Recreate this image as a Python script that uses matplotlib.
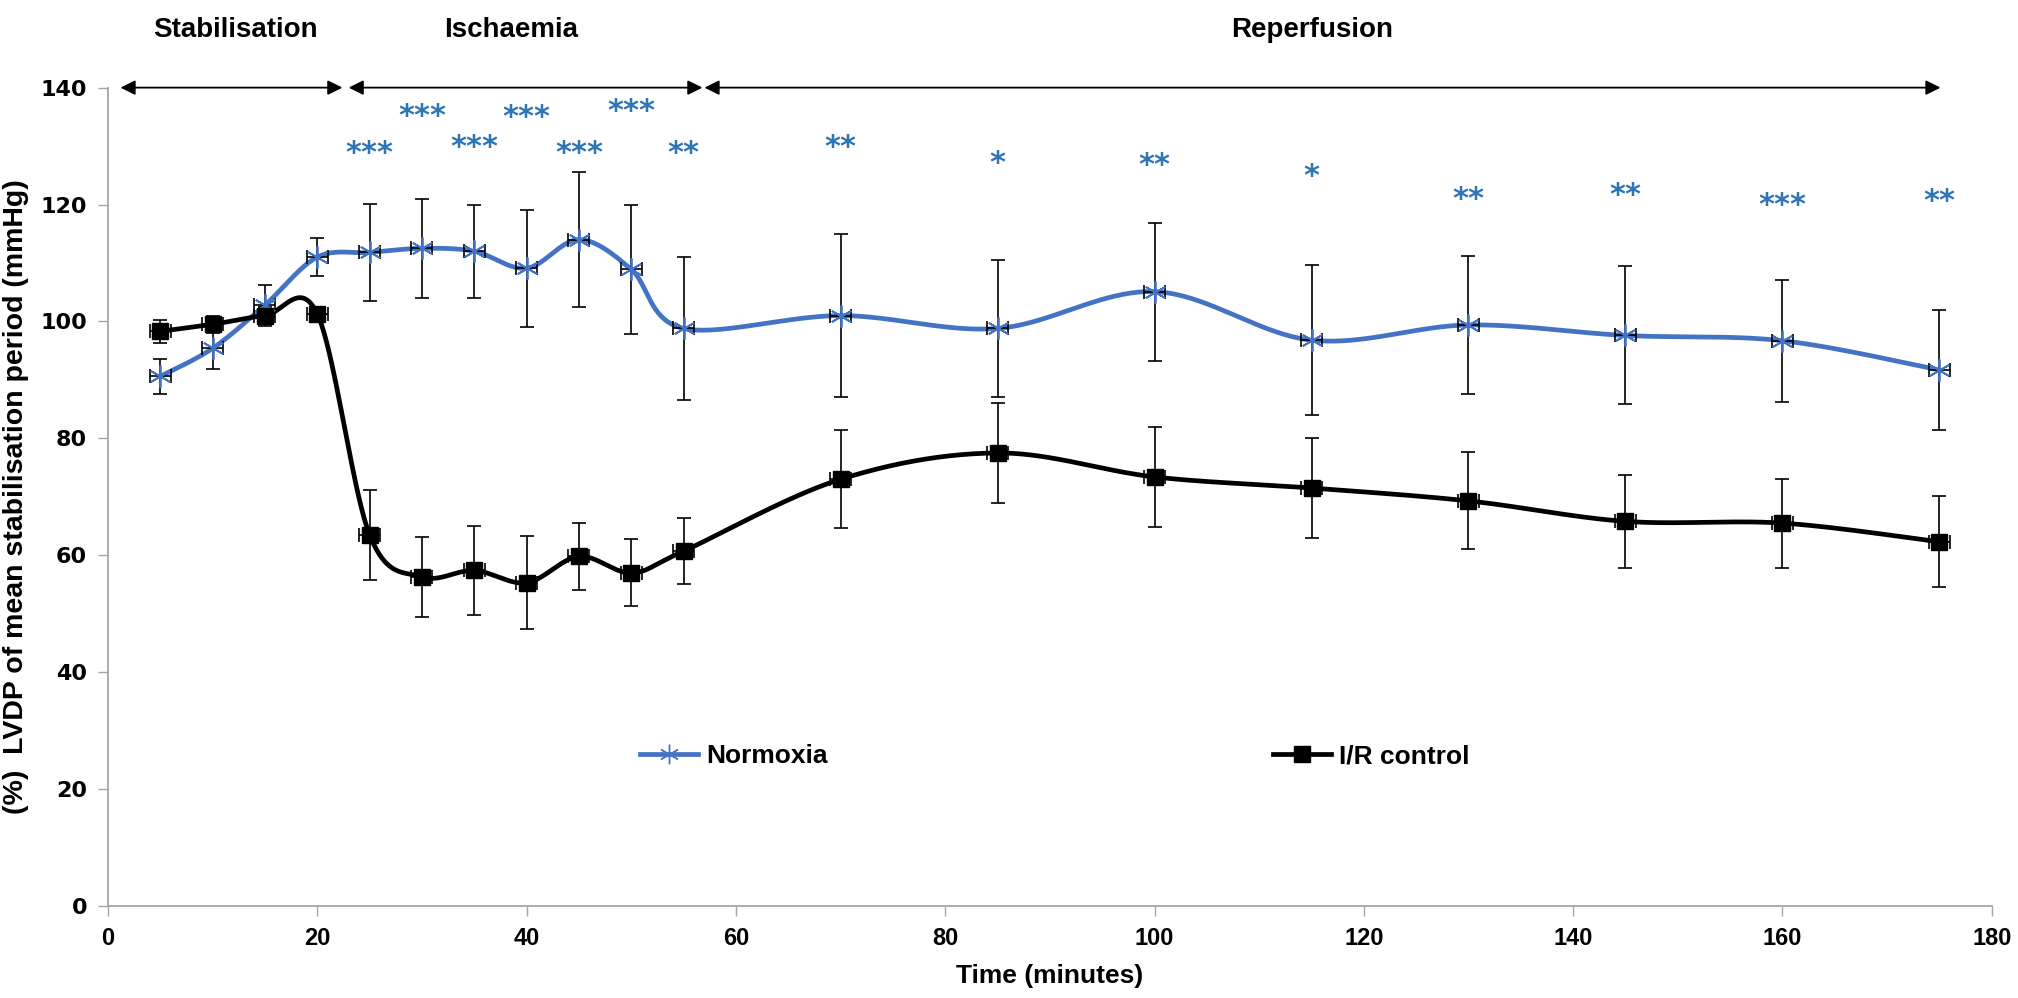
import numpy as np
import matplotlib
matplotlib.use("Agg")
import matplotlib.pyplot as plt
from matplotlib.lines import Line2D

# ---------------- data ----------------
time = [5, 10, 15, 20, 25, 30, 35, 40, 45, 50, 55, 70, 85, 100, 115, 130, 145, 160, 175]
normoxia = [90.6, 95.4, 102.8, 111.0, 111.8, 112.5, 112.0, 109.1, 114.0, 108.9, 98.8,
            101.0, 98.8, 105.1, 96.8, 99.4, 97.6, 96.7, 91.7]
normoxia_err = [3.0, 3.5, 3.5, 3.3, 8.3, 8.5, 8.0, 10.0, 11.6, 11.0, 12.3,
                13.9, 11.7, 11.8, 12.8, 11.8, 11.8, 10.4, 10.3]
ir_control = [98.3, 99.5, 101.0, 101.3, 63.5, 56.3, 57.4, 55.3, 59.8, 57.0, 60.7,
              73.0, 77.5, 73.4, 71.5, 69.3, 65.8, 65.5, 62.3]
ir_err = [2.0, 1.5, 1.5, 1.2, 7.7, 6.8, 7.6, 8.0, 5.7, 5.7, 5.6,
          8.4, 8.6, 8.6, 8.5, 8.3, 8.0, 7.6, 7.8]
time_err = 1.0

sig_x = [25, 30, 35, 40, 45, 50, 55, 70, 85, 100, 115, 130, 145, 160, 175]
sig_y = [128.8, 135.1, 129.8, 134.9, 128.8, 136.0, 128.8, 129.8, 127.0, 126.6, 124.8,
         120.8, 121.5, 119.9, 120.6]
sig_labels = ["***", "***", "***", "***", "***", "***", "**", "**", "*", "**", "*",
              "**", "**", "***", "**"]

phase_names = ["Stabilisation", "Ischaemia", "Reperfusion"]
phase_start = [1.2, 23.0, 57.0]
phase_end = [22.4, 56.8, 175.1]
phase_label_x = [12.2, 38.5, 115.1]

BLUE = "#4472C4"
STAR_BLUE = "#2E75B6"


def smooth(x, y, n=40):
    """Excel-style smoothed line (Catmull-Rom / Bezier)."""
    x = np.asarray(x, float)
    y = np.asarray(y, float)
    P = np.column_stack([x, y])
    P = np.vstack([P[0], P, P[-1]])
    out = []
    t = np.linspace(0, 1, n)
    for i in range(1, len(P) - 2):
        p0, p1, p2, p3 = P[i - 1], P[i], P[i + 1], P[i + 2]
        c1 = p1 + (p2 - p0) / 6.0
        c2 = p2 - (p3 - p1) / 6.0
        seg = ((1 - t) ** 3)[:, None] * p1 + (3 * (1 - t) ** 2 * t)[:, None] * c1 \
            + (3 * (1 - t) * t ** 2)[:, None] * c2 + (t ** 3)[:, None] * p2
        out.append(seg if i == 1 else seg[1:])
    s = np.vstack(out)
    return s[:, 0], s[:, 1]


LABEL_FONT = ["Liberation Sans Narrow", "Liberation Sans", "DejaVu Sans"]

fig = plt.figure(figsize=(20.18, 9.98), dpi=100)
ax = fig.add_axes([0.0535, 0.0922, 0.9335, 0.8200])

# smoothed lines
sx, sy = smooth(time, normoxia)
ax.plot(sx, sy, color=BLUE, lw=3.4, zorder=3, solid_capstyle="round")
sx, sy = smooth(time, ir_control)
ax.plot(sx, sy, color="black", lw=3.4, zorder=3, solid_capstyle="round")

# error bars
ax.errorbar(time, normoxia, yerr=normoxia_err, xerr=time_err, fmt="none",
            ecolor="black", elinewidth=1.2, capsize=5, capthick=1.2, zorder=4)
ax.errorbar(time, ir_control, yerr=ir_err, xerr=time_err, fmt="none",
            ecolor="black", elinewidth=1.2, capsize=5, capthick=1.2, zorder=4)

# markers
ax.plot(time, normoxia, linestyle="none", marker=(6, 2, 0), markersize=16,
        markeredgecolor=BLUE, markeredgewidth=1.3, zorder=5)
ax.plot(time, ir_control, linestyle="none", marker="s", markersize=12,
        color="black", zorder=5)

# significance stars
for xx, yy, lab in zip(sig_x, sig_y, sig_labels):
    ax.text(xx, yy, lab, color=STAR_BLUE, fontsize=22, fontweight="bold",
            ha="center", va="center", family=["DejaVu Sans"], zorder=6)

# phase arrows and labels
for name, x0, x1, xl in zip(phase_names, phase_start, phase_end, phase_label_x):
    ax.annotate("", xy=(x1, 140), xytext=(x0, 140), xycoords="data",
                arrowprops=dict(arrowstyle="<|-|>", color="black", lw=1.3,
                                mutation_scale=22, shrinkA=0, shrinkB=0),
                annotation_clip=False, zorder=6)
    ax.text(xl, 149.8, name, ha="center", va="center", fontsize=20,
            fontweight="bold", family=["Liberation Sans", "DejaVu Sans"], clip_on=False)

ax.set_xlim(0, 180)
ax.set_ylim(0, 140)
ax.set_xticks(np.arange(0, 181, 20))
ax.set_yticks(np.arange(0, 141, 20))

for s in ["top", "right"]:
    ax.spines[s].set_visible(False)
for s in ["left", "bottom"]:
    ax.spines[s].set_color("#A6A6A6")
    ax.spines[s].set_linewidth(1.3)
ax.tick_params(axis="both", direction="out", length=7, width=1.0, color="#A6A6A6",
               labelsize=16, pad=8)
for lab in ax.get_xticklabels() + ax.get_yticklabels():
    lab.set_fontweight("bold")
    lab.set_family(["DejaVu Sans"])
for lab in ax.get_xticklabels():
    lab.set_family(["Liberation Sans", "DejaVu Sans"])
    lab.set_fontsize(17)

ax.set_xlabel("Time (minutes)", fontsize=19, fontweight="bold",
              family=LABEL_FONT, labelpad=10)
ax.set_ylabel("(%)  LVDP of mean stabilisation period (mmHg)", fontsize=20.5, fontweight="bold",
              family=LABEL_FONT, labelpad=8)

# legend (two separate entries placed like the reference)
h1 = Line2D([], [], color=BLUE, lw=3.4, marker=(6, 2, 0), markersize=14,
            markeredgecolor=BLUE, markeredgewidth=1.0)
h2 = Line2D([], [], color="black", lw=3.4, marker="s", markersize=11)
legprops = dict(size=19, weight="bold", family=LABEL_FONT)
leg1 = ax.legend([h1], ["Normoxia"], loc="center left", bbox_to_anchor=(0.270, 0.183),
                 frameon=False, prop=legprops, handlelength=2.2, handletextpad=0.3)
ax.add_artist(leg1)
ax.legend([h2], ["I/R control"], loc="center left", bbox_to_anchor=(0.606, 0.183),
          frameon=False, prop=legprops, handlelength=2.2, handletextpad=0.3)

fig.savefig("out.png", dpi=100)
